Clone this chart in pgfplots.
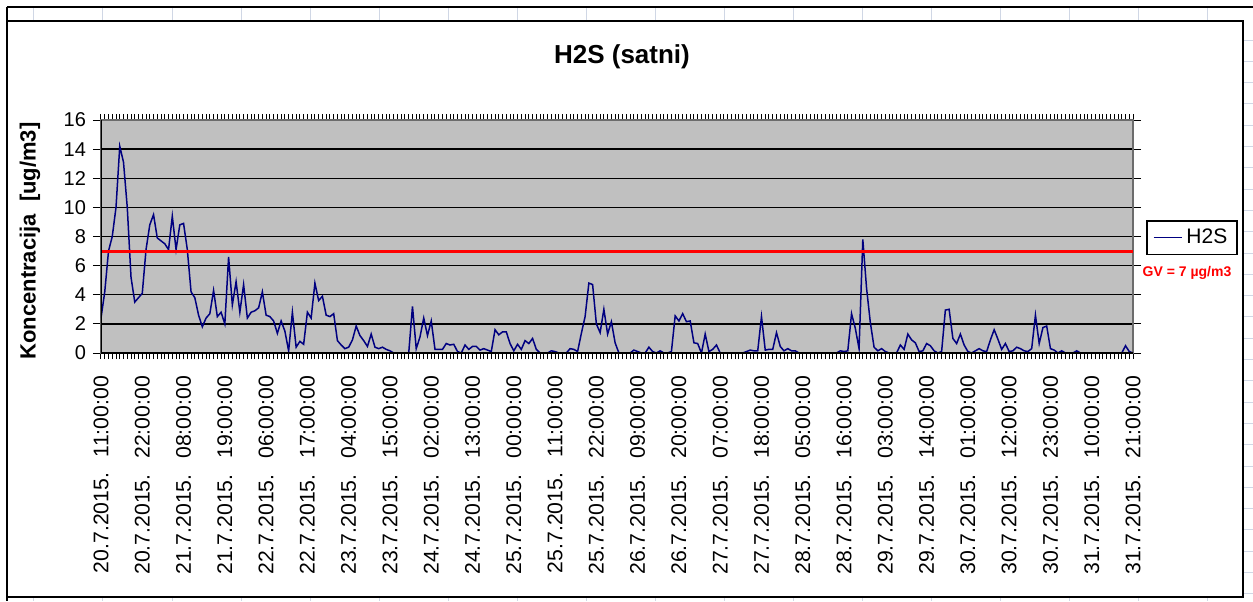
\documentclass[border=0pt]{standalone}
\usepackage{pgfplots}
\pgfplotsset{compat=1.18}
\usepackage{pgfplotstable}
\usepackage{fontspec}
\setmainfont{Liberation Sans}
\definecolor{plotgray}{RGB}{192,192,192}
\definecolor{navyline}{RGB}{0,0,128}
\definecolor{sheetgrid}{RGB}{208,215,229}
\definecolor{gvred}{RGB}{255,0,0}

\pgfplotstableread{
x y
0 2.4
1 4.2
2 7.0
3 8.0
4 10.0
5 14.2
6 13.1
7 10.0
8 5.2
9 3.5
10 3.8
11 4.1
12 7.1
13 8.8
14 9.5
15 7.9
16 7.7
17 7.5
18 7.1
19 9.4
20 7.1
21 8.8
22 8.9
23 7.1
24 4.2
25 3.8
26 2.6
27 1.8
28 2.4
29 2.7
30 4.3
31 2.5
32 2.8
33 2.0
34 6.6
35 3.3
36 4.9
37 2.8
38 4.7
39 2.4
40 2.8
41 2.9
42 3.1
43 4.2
44 2.6
45 2.5
46 2.2
47 1.35
48 2.2
49 1.5
50 0.15
51 2.8
52 0.4
53 0.8
54 0.6
55 2.8
56 2.4
57 4.8
58 3.6
59 3.9
60 2.6
61 2.5
62 2.7
63 0.85
64 0.55
65 0.3
66 0.4
67 0.9
68 1.85
69 1.2
70 0.85
71 0.45
72 1.3
73 0.4
74 0.3
75 0.4
76 0.25
77 0.15
78 0
79 0
80 0
81 0
82 0
83 3.2
84 0.3
85 1.1
86 2.4
87 1.2
88 2.2
89 0.25
90 0.25
91 0.25
92 0.65
93 0.55
94 0.6
95 0.1
96 0
97 0.55
98 0.25
99 0.45
100 0.45
101 0.2
102 0.3
103 0.2
104 0.1
105 1.6
106 1.25
107 1.45
108 1.45
109 0.65
110 0.15
111 0.6
112 0.25
113 0.85
114 0.65
115 1.0
116 0.25
117 0
118 0
119 0
120 0.15
121 0.1
122 0
123 0
124 0
125 0.3
126 0.25
127 0.1
128 1.35
129 2.5
130 4.8
131 4.7
132 2.0
133 1.4
134 3.0
135 1.3
136 2.15
137 0.7
138 0
139 0
140 0
141 0
142 0.2
143 0.1
144 0
145 0
146 0.4
147 0.1
148 0
149 0.15
150 0
151 0
152 0.1
153 2.55
154 2.2
155 2.7
156 2.15
157 2.2
158 0.7
159 0.65
160 0
161 1.3
162 0.1
163 0.25
164 0.55
165 0
166 0
167 0
168 0
169 0
170 0
171 0
172 0.1
173 0.2
174 0.15
175 0.15
176 2.5
177 0.2
178 0.25
179 0.25
180 1.4
181 0.45
182 0.15
183 0.3
184 0.15
185 0.15
186 0
187 0
188 0
189 0
190 0
191 0
192 0
193 0
194 0
195 0
196 0
197 0.15
198 0.1
199 0.15
200 2.7
201 1.7
202 0.3
203 7.8
204 4.45
205 2.1
206 0.4
207 0.15
208 0.3
209 0.1
210 0
211 0
212 0
213 0.55
214 0.25
215 1.3
216 0.9
217 0.7
218 0.1
219 0.15
220 0.65
221 0.5
222 0.15
223 0
224 0.1
225 2.95
226 3.0
227 1.0
228 0.65
229 1.3
230 0.55
231 0.1
232 0
233 0.15
234 0.3
235 0.15
236 0.1
237 0.9
238 1.6
239 0.95
240 0.25
241 0.65
242 0.1
243 0.15
244 0.4
245 0.3
246 0.15
247 0.1
248 0.3
249 2.6
250 0.65
251 1.75
252 1.85
253 0.3
254 0.2
255 0
256 0.15
257 0
258 0
259 0
260 0.15
261 0
262 0
263 0
264 0
265 0
266 0
267 0
268 0
269 0
270 0
271 0
272 0
273 0.5
274 0.1
275 0
}\datatable

\begin{document}
\begin{tikzpicture}
\path[use as bounding box] (-50.5pt,-124pt) rectangle (576pt,176.5pt);
\begin{scope}[x=0.5pt,y=-0.5pt,shift={(-50.5pt,176.5pt)}]
  \foreach \c in {34,103,...,1208} {
    \draw[sheetgrid, line width=0.5pt] (\c,7) -- (\c,21);
    \draw[sheetgrid, line width=0.5pt] (\c,597) -- (\c,601);
  }
  \foreach \r in {40,61.3,...,597} {
    \draw[sheetgrid, line width=0.5pt] (1243,\r) -- (1253,\r);
  }
  \fill[white] (7,21) rectangle (1243,597);
  \draw[black, line width=1.2pt] (7,7) -- (1253,7);
  \draw[black, line width=1.2pt] (7,7) -- (7,601);
  \draw[black, line width=0.9pt] (7,21) rectangle (1243,597);
  \node[font=\fontsize{13}{15}\selectfont\bfseries] at (622,57) {H2S (satni)};
  \node[font=\fontsize{11}{13}\selectfont\bfseries, rotate=90] at (30,241) {Koncentracija\ \ [ug/m3]};
  \node[font=\fontsize{7}{8}\selectfont\bfseries, text=gvred] at (1187,273) {GV = 7 µg/m3};
\end{scope}
\begin{axis}[
  at={(0pt,0pt)}, anchor=south west,
  scale only axis, width=516pt, height=116.5pt,
  xmin=0, xmax=275, ymin=0, ymax=16,
  axis background/.style={fill=plotgray},
  axis line style={draw=gray!85!black, line width=0.6pt},
  ytick={0,2,...,16},
  ymajorgrids,
  major grid style={black, line width=0.7pt},
  xtick={0,11,...,275},
  xticklabels={
    {20.7.2015.\hspace{0.75em}11:00:00},
    {20.7.2015.\hspace{0.75em}22:00:00},
    {21.7.2015.\hspace{0.75em}08:00:00},
    {21.7.2015.\hspace{0.75em}19:00:00},
    {22.7.2015.\hspace{0.75em}06:00:00},
    {22.7.2015.\hspace{0.75em}17:00:00},
    {23.7.2015.\hspace{0.75em}04:00:00},
    {23.7.2015.\hspace{0.75em}15:00:00},
    {24.7.2015.\hspace{0.75em}02:00:00},
    {24.7.2015.\hspace{0.75em}13:00:00},
    {25.7.2015.\hspace{0.75em}00:00:00},
    {25.7.2015.\hspace{0.75em}11:00:00},
    {25.7.2015.\hspace{0.75em}22:00:00},
    {26.7.2015.\hspace{0.75em}09:00:00},
    {26.7.2015.\hspace{0.75em}20:00:00},
    {27.7.2015.\hspace{0.75em}07:00:00},
    {27.7.2015.\hspace{0.75em}18:00:00},
    {28.7.2015.\hspace{0.75em}05:00:00},
    {28.7.2015.\hspace{0.75em}16:00:00},
    {29.7.2015.\hspace{0.75em}03:00:00},
    {29.7.2015.\hspace{0.75em}14:00:00},
    {30.7.2015.\hspace{0.75em}01:00:00},
    {30.7.2015.\hspace{0.75em}12:00:00},
    {30.7.2015.\hspace{0.75em}23:00:00},
    {31.7.2015.\hspace{0.75em}10:00:00},
    {31.7.2015.\hspace{0.75em}21:00:00}},
  minor xtick={0,1,...,275},
  tick align=outside,
  major tick length=4pt,
  minor tick length=3pt,
  tick style={black, line width=0.5pt},
  major x tick style={draw=none},
  /pgf/number format/assume math mode=true,
  yticklabel style={font=\fontsize{10}{12}\selectfont},
  xticklabel shift=4pt,
  xticklabel style={rotate=90, anchor=east, font=\fontsize{10.6}{12}\selectfont},
  legend image code/.code={\draw[#1, line width=0.8pt] (0pt,0pt) -- (14pt,0pt);},
  legend style={at={(1.0126,0.571)}, anchor=north west, draw=black, line width=0.8pt,
    fill=white, font=\fontsize{10.5}{12}\selectfont, inner xsep=3pt, inner ysep=2pt},
]
\addplot[navyline, line width=0.75pt] table[x=x,y=y]{\datatable};
\addlegendentry{H2S}
\addplot[gvred, line width=1.5pt, forget plot] coordinates {(0,7) (275,7)};
\draw[black, line width=0.8pt] (rel axis cs:0,1) -- (rel axis cs:0,0) -- (rel axis cs:1,0);
\end{axis}
\end{tikzpicture}
\end{document}
